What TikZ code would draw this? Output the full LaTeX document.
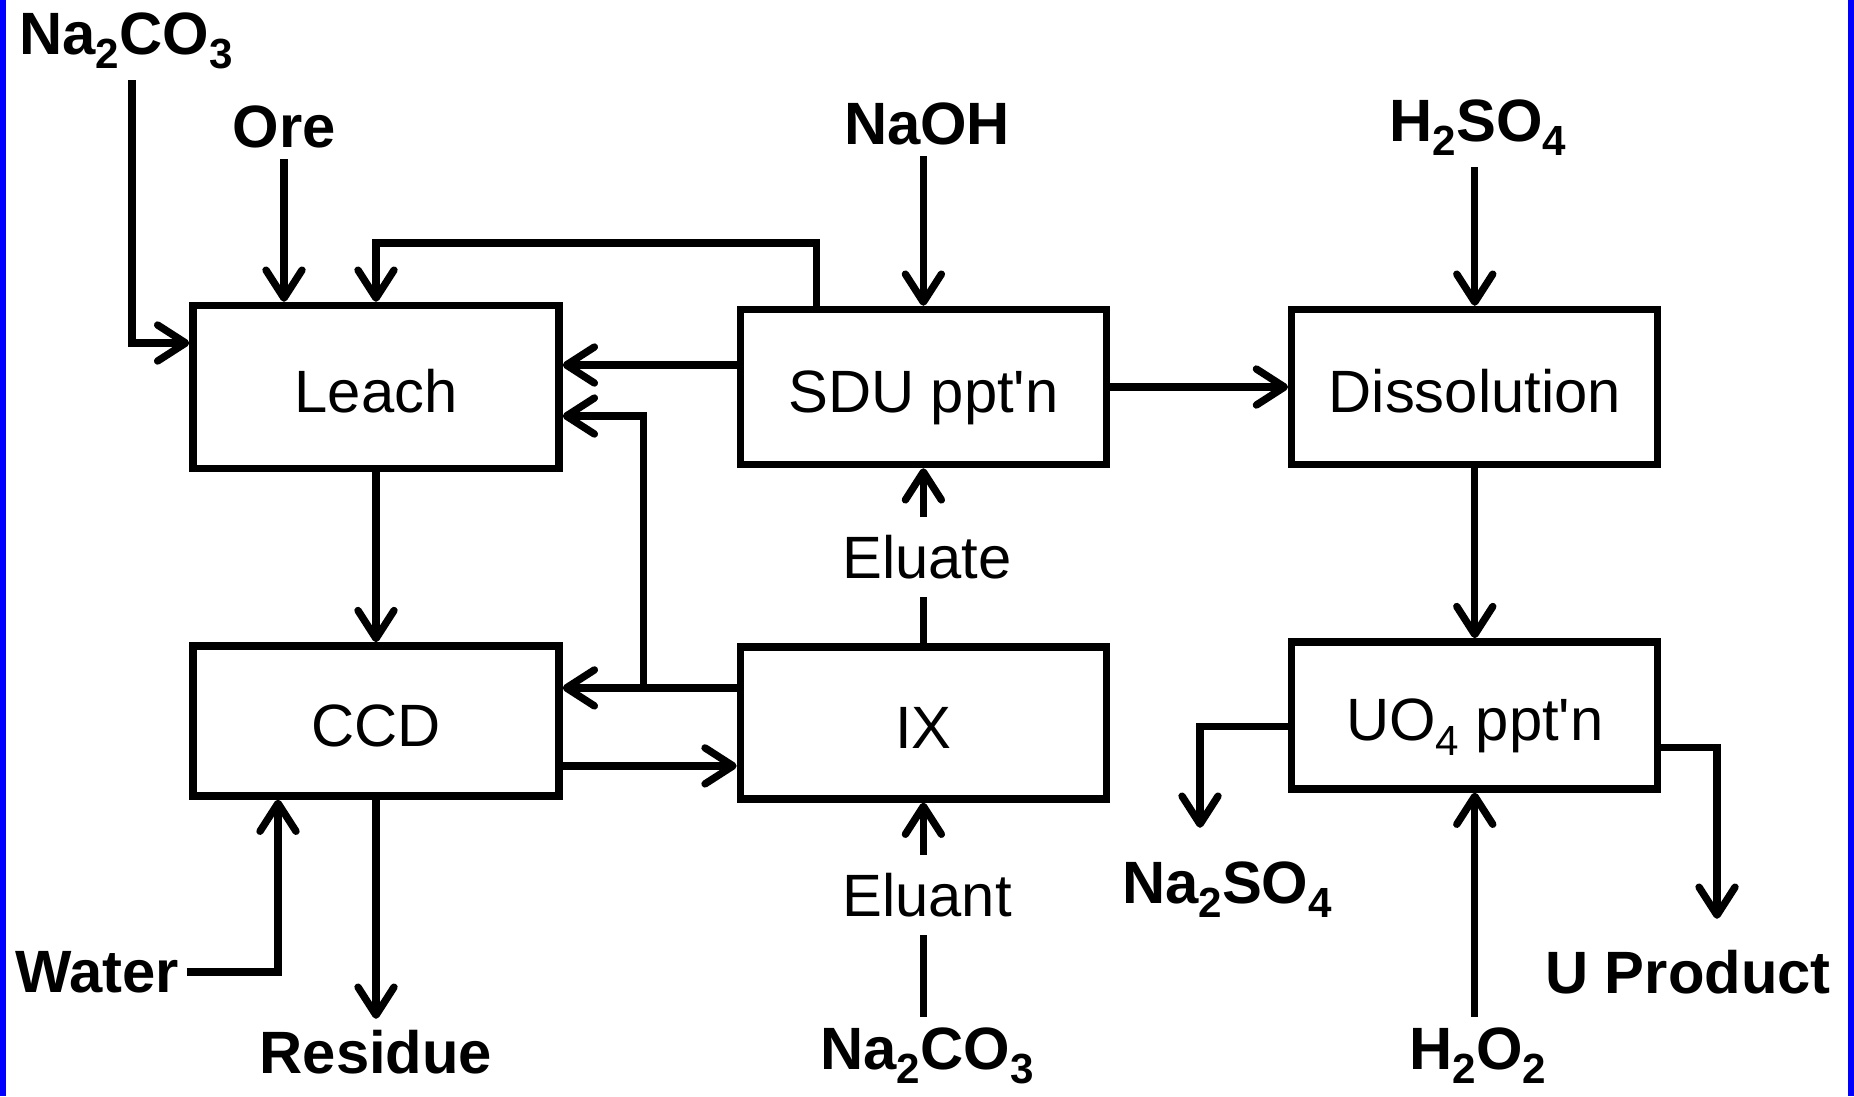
\documentclass[tikz,border=0pt]{standalone}
\usepackage{fontspec}
\setmainfont{Liberation Sans}
\usetikzlibrary{positioning,arrows.meta}
\newcommand{\chemsub}[1]{\raisebox{-0.45ex}{\fontsize{12}{12}\selectfont #1}}

\begin{document}
\begin{tikzpicture}[
  node distance=1.8cm,
  box/.style={draw, line width=2.1pt, minimum width=3.66cm,
              minimum height=1.55cm, text height=0.51cm, text depth=0pt,
              font=\fontsize{17}{20}\selectfont},
  arrow/.style={-{Straight Barb[length=2.8mm,width=3.6mm,line cap=round,line join=round]},
                line width=2.1pt},
  flow/.style={line width=2.1pt},
  feed/.style={font=\fontsize{17}{20}\selectfont\bfseries, inner xsep=2pt, inner ysep=3pt},
  stream/.style={font=\fontsize{17}{20}\selectfont, inner xsep=2pt, inner ysep=5pt}
]
\useasboundingbox (0,0) rectangle (18.54,-10.96);
\fill[blue] (0,0) rectangle (0.06,-10.96);
\fill[blue] (18.48,0) rectangle (18.54,-10.96);

\node[box, minimum height=1.63cm] (leach) at (3.76,-3.87) {Leach};
\node[box, right=1.74cm of leach] (sdu) {SDU ppt\textquotesingle n};
\node[box, right=1.78cm of sdu]  (diss) {Dissolution};
\node[box, minimum height=1.50cm, below=1.70cm of leach] (ccd) {CCD};
\node[box, minimum height=1.52cm, below=1.75cm of sdu]   (ix) {IX};
\node[box, minimum height=1.47cm, below=1.70cm of diss]  (uo4) {UO\chemsub{4} ppt\textquotesingle n};

\node[feed] (naco)    at (1.26,-0.41)  {Na\chemsub{2}CO\chemsub{3}};
\node[feed] (ore)     at (2.84,-1.27)  {Ore};
\node[feed] (naoh)    at (9.27,-1.24)  {NaOH};
\node[feed] (hso)     at (14.78,-1.28) {H\chemsub{2}SO\chemsub{4}};
\node[stream] (eluate) at (9.27,-5.57) {Eluate};
\node[stream] (eluant) at (9.27,-8.95) {Eluant};
\node[feed] (nacob)   at (9.27,-10.56) {Na\chemsub{2}CO\chemsub{3}};
\node[feed] (water)   at (0.97,-9.72)  {Water};
\node[feed] (residue) at (3.76,-10.52) {Residue};
\node[feed] (naso)    at (12.27,-8.90) {Na\chemsub{2}SO\chemsub{4}};
\node[feed] (uprod)   at (16.88,-9.72) {U Product};
\node[feed] (hoo)     at (14.78,-10.56) {H\chemsub{2}O\chemsub{2}};

\draw[arrow] ([xshift=0.6mm]naco.south) |- ([yshift=4.4mm]leach.west);
\draw[arrow] (ore.south) -- (ore.south |- leach.north);
\draw[arrow] ([xshift=-10.7mm]sdu.north) -- ++(0,0.63) -| (leach.north);
\draw[arrow] (naoh.south -| sdu.north) -- (sdu.north);
\draw[arrow] ([yshift=2.2mm]sdu.west) -- ([yshift=2.2mm]sdu.west -| leach.east);
\coordinate (split) at ([xshift=-9.3mm,yshift=3.5mm]ix.west);
\draw[arrow] ([yshift=3.5mm]ix.west) -- (split -| ccd.east);
\draw[arrow] (split) |- ([yshift=-2.9mm]leach.east);
\draw[arrow] ([yshift=-4.5mm]ccd.east) -- ([yshift=-4.5mm]ccd.east -| ix.west);
\draw[arrow] (leach) -- (ccd);
\draw[arrow] (water.east) -| ([xshift=-9.8mm]ccd.south);
\draw[arrow] (ccd.south) -- (residue.north -| ccd.south);
\draw[flow] (ix.north) -- (ix.north |- eluate.south);
\draw[arrow] (eluate.north -| sdu.south) -- (sdu.south);
\draw[flow] (nacob.north -| ix.south) -- (eluant.south -| ix.south);
\draw[arrow] (eluant.north -| ix.south) -- (ix.south);
\draw[arrow] (sdu.east) -- (sdu.east -| diss.west);
\draw[arrow] (hso.south -| diss.north) -- (diss.north);
\draw[arrow] (diss) -- (uo4);
\draw[arrow, shorten >=2.3mm] ([yshift=-1.1mm]uo4.west) -| ([xshift=-2.7mm]naso.north);
\draw[arrow, shorten >=2mm] ([yshift=-3.2mm]uo4.east) -| ([xshift=2.9mm]uprod.north);
\draw[arrow] (hoo.north -| uo4.south) -- (uo4.south);
\end{tikzpicture}
\end{document}
